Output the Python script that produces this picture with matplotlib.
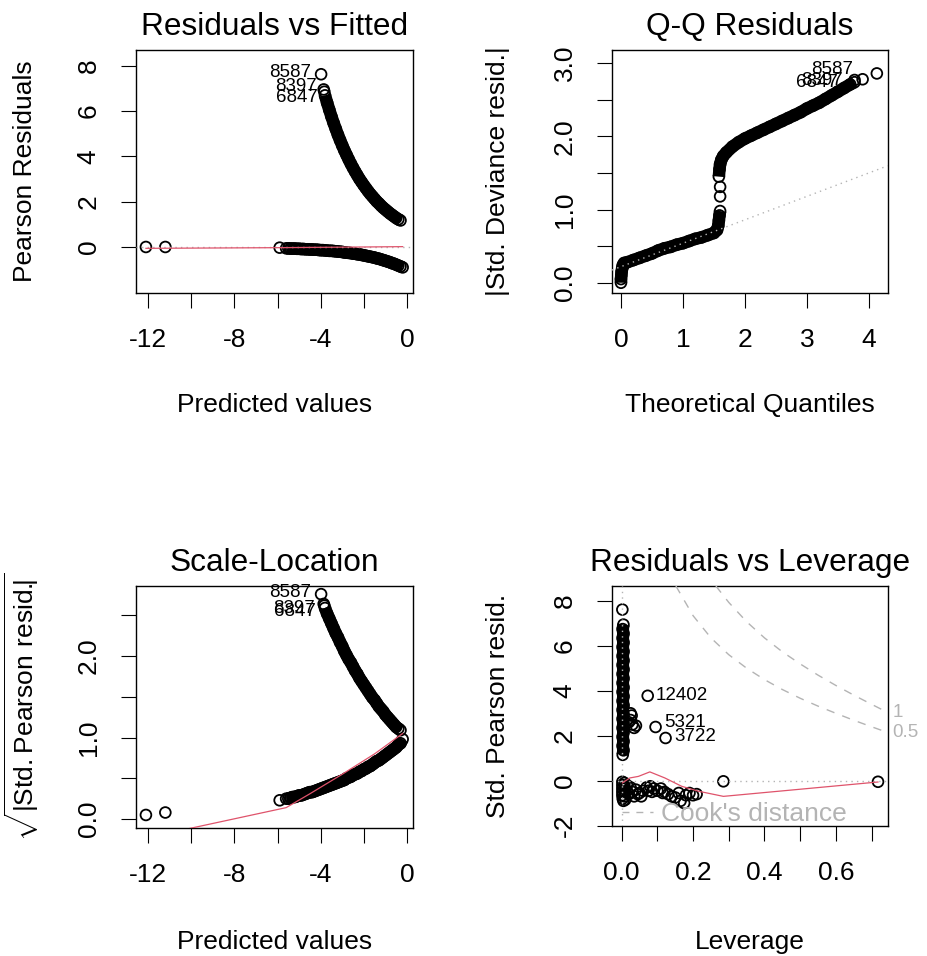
import matplotlib
matplotlib.use('Agg')
import matplotlib.pyplot as plt
from matplotlib.lines import Line2D

plt.rcParams['font.family'] = ['Liberation Sans', 'DejaVu Sans']
plt.rcParams['mathtext.fontset'] = 'custom'
plt.rcParams['mathtext.rm'] = 'Liberation Sans'

RED = '#DF536B'
GRAY = '#B4B4B4'

# --- fitted values (linear predictor) and residuals ---
fitted_hi = [-3.8, -3.7, -3.6, -3.5, -3.4, -3.3, -3.2, -3.1, -3.0, -2.9, -2.8, -2.7,
             -2.6, -2.5, -2.4, -2.3, -2.2, -2.1, -2.0, -1.9, -1.8, -1.7, -1.6, -1.5,
             -1.4, -1.3, -1.2, -1.1, -1.0, -0.9, -0.8, -0.7, -0.6, -0.5, -0.4, -0.3]
resid_hi = [6.69, 6.36, 6.05, 5.75, 5.47, 5.21, 4.95, 4.71, 4.48, 4.26, 4.06, 3.86,
            3.67, 3.49, 3.32, 3.16, 3.00, 2.86, 2.72, 2.59, 2.46, 2.34, 2.23, 2.12,
            2.01, 1.92, 1.82, 1.73, 1.65, 1.57, 1.49, 1.42, 1.35, 1.28, 1.22, 1.17]
sqrt_hi = [2.59, 2.52, 2.46, 2.40, 2.34, 2.28, 2.23, 2.17, 2.12, 2.06, 2.01, 1.96,
           1.92, 1.87, 1.82, 1.78, 1.73, 1.69, 1.65, 1.61, 1.57, 1.53, 1.49, 1.46,
           1.42, 1.38, 1.35, 1.32, 1.28, 1.25, 1.22, 1.19, 1.16, 1.13, 1.11, 1.09]

fitted_lo = [-5.6, -5.5, -5.4, -5.3, -5.2, -5.1, -5.0, -4.9, -4.8, -4.7, -4.6, -4.5,
             -4.4, -4.3, -4.2, -4.1, -4.0, -3.9, -3.8, -3.7, -3.6, -3.5, -3.4, -3.3,
             -3.2, -3.1, -3.0, -2.9, -2.8, -2.7, -2.6, -2.5, -2.4, -2.3, -2.2, -2.1,
             -2.0, -1.9, -1.8, -1.7, -1.6, -1.5, -1.4, -1.3, -1.2, -1.1, -1.0, -0.9,
             -0.8, -0.7, -0.6, -0.5, -0.4, -0.3, -0.2]
resid_lo = [-0.06, -0.06, -0.07, -0.07, -0.07, -0.08, -0.08, -0.09, -0.09, -0.10, -0.10, -0.11,
            -0.11, -0.12, -0.12, -0.13, -0.14, -0.14, -0.15, -0.16, -0.17, -0.17, -0.18, -0.19,
            -0.20, -0.21, -0.22, -0.24, -0.25, -0.26, -0.27, -0.29, -0.30, -0.32, -0.33, -0.35,
            -0.37, -0.39, -0.41, -0.43, -0.45, -0.47, -0.50, -0.52, -0.55, -0.58, -0.61, -0.64,
            -0.67, -0.71, -0.74, -0.78, -0.82, -0.86, -0.90]
sqrt_lo = [0.25, 0.25, 0.26, 0.27, 0.27, 0.28, 0.29, 0.29, 0.30, 0.31, 0.32, 0.33,
           0.33, 0.34, 0.35, 0.36, 0.37, 0.38, 0.39, 0.40, 0.41, 0.42, 0.43, 0.44,
           0.45, 0.46, 0.47, 0.48, 0.50, 0.51, 0.52, 0.54, 0.55, 0.56, 0.58, 0.59,
           0.61, 0.62, 0.64, 0.65, 0.67, 0.69, 0.71, 0.72, 0.74, 0.76, 0.78, 0.80,
           0.82, 0.84, 0.86, 0.88, 0.91, 0.93, 0.98]

fitted_iso = [-12.1, -11.2, -5.9]
resid_iso = [0.0, 0.0, -0.03]
sqrt_iso = [0.05, 0.08, 0.23]

out_ids = ['8587', '8397', '6847']
fitted_out = [-3.98, -3.86, -3.83]
resid_out = [7.62, 6.95, 6.85]
sqrt_out = [2.76, 2.64, 2.62]

smooth1_x = [-12.1, -11.2, -5.9, -4.0, -2.0, -0.2]
smooth1_y = [-0.06, -0.055, -0.03, -0.015, 0.0, 0.015]
smooth3_x = [-12.1, -11.2, -5.6, -4.5, -3.0, -1.5, -0.2]
smooth3_y = [-0.23, -0.18, 0.14, 0.31, 0.55, 0.80, 1.05]

# --- Q-Q (half-normal) ---
qq_lo_x = [0.0, 0.0, 0.005, 0.01, 0.02, 0.03, 0.05, 0.1, 0.2, 0.3, 0.4, 0.5, 0.6, 0.7,
           0.8, 0.9, 1.0, 1.1, 1.2, 1.3, 1.4, 1.5, 1.55, 1.57, 1.58, 1.59, 1.6]
qq_lo_y = [0.0, 0.05, 0.10, 0.15, 0.20, 0.24, 0.27, 0.28, 0.31, 0.34, 0.37, 0.40, 0.44, 0.47,
           0.49, 0.52, 0.54, 0.57, 0.60, 0.62, 0.65, 0.68, 0.72, 0.78, 0.85, 0.92, 0.98]
qq_mid_x = [1.6, 1.6]
qq_mid_y = [1.18, 1.31]
qq_hi_x = [1.58, 1.59, 1.6, 1.62, 1.65, 1.7, 1.8, 1.9, 2.0, 2.1, 2.2, 2.3, 2.4, 2.5, 2.6,
           2.7, 2.8, 2.9, 3.0, 3.1, 3.2, 3.3, 3.4, 3.5, 3.6, 3.7, 3.77]
qq_hi_y = [1.45, 1.55, 1.62, 1.68, 1.73, 1.78, 1.86, 1.92, 1.97, 2.01, 2.05, 2.09, 2.13, 2.17, 2.21,
           2.25, 2.29, 2.33, 2.38, 2.42, 2.46, 2.51, 2.56, 2.61, 2.66, 2.71, 2.74]
qq_out_x = [4.13, 3.9, 3.77]
qq_out_y = [2.86, 2.78, 2.77]
qq_line_intercept = 0.22
qq_line_slope = 0.32

# --- residuals vs leverage ---
lev_hi = [0.003, 0.005, 0.003, 0.005, 0.003, 0.005, 0.003, 0.005, 0.003, 0.005,
          0.003, 0.005, 0.003, 0.005, 0.003, 0.005, 0.003, 0.005, 0.003, 0.005,
          0.003, 0.005, 0.003, 0.005, 0.003, 0.005, 0.003, 0.005, 0.003, 0.005]
std_hi = [1.15, 1.35, 1.55, 1.75, 1.95, 2.15, 2.35, 2.55, 2.75, 2.95,
          3.15, 3.35, 3.55, 3.75, 3.95, 4.15, 4.35, 4.55, 4.75, 4.95,
          5.15, 5.35, 5.55, 5.75, 5.95, 6.15, 6.35, 6.55, 6.75, 6.95]
lev_mid = [0.002, 0.025, 0.025, 0.03, 0.035, 0.02, 0.028, 0.04]
std_mid = [7.62, 3.0, 2.7, 2.5, 2.35, 2.6, 2.9, 2.45]
lev_lo = [0.002, 0.002, 0.002, 0.002, 0.002, 0.003, 0.005, 0.008, 0.008, 0.008, 0.008,
          0.01, 0.015, 0.015, 0.02, 0.025, 0.03, 0.035, 0.04, 0.045, 0.05, 0.055, 0.06,
          0.07, 0.075, 0.08, 0.085, 0.09, 0.1, 0.11, 0.115, 0.12, 0.13, 0.14, 0.15, 0.16,
          0.165, 0.175, 0.18, 0.19, 0.2, 0.21, 0.285, 0.718]
std_lo = [-0.05, -0.2, -0.35, -0.5, -0.65, -0.8, -0.9, -0.1, -0.3, -0.5, -0.7,
          -0.85, -0.2, -0.45, -0.6, -0.3, -0.5, -0.7, -0.4, -0.6, -0.55, -0.7, -0.45,
          -0.3, -0.45, -0.25, -0.5, -0.35, -0.45, -0.35, -0.55, -0.5, -0.6, -0.7, -0.75, -0.55,
          -0.9, -1.0, -0.65, -0.55, -0.65, -0.6, -0.03, -0.05]
lev_ids = ['12402', '5321', '3722']
lev_out = [0.073, 0.095, 0.123]
std_out = [3.78, 2.39, 1.90]
smooth4_x = [0.002, 0.023, 0.047, 0.079, 0.121, 0.168, 0.215, 0.285, 0.718]
smooth4_y = [-0.10, 0.12, 0.19, 0.39, 0.12, -0.25, -0.47, -0.70, -0.06]
cook1_lev = [0.264, 0.3, 0.35, 0.4, 0.45, 0.5, 0.55, 0.6, 0.65, 0.7, 0.746]
cook1_y = [8.67, 7.94, 7.08, 6.36, 5.74, 5.20, 4.70, 4.24, 3.81, 3.40, 3.03]
cook05_lev = [0.152, 0.2, 0.25, 0.3, 0.35, 0.4, 0.45, 0.5, 0.55, 0.6, 0.65, 0.7, 0.746]
cook05_y = [8.67, 7.35, 6.36, 5.61, 5.01, 4.50, 4.06, 3.67, 3.32, 3.00, 2.69, 2.40, 2.14]

W, H = 927, 956
fig = plt.figure(figsize=(W / 100, H / 100), dpi=100)


def box(l, t, r, b):
    return [l / W, 1 - b / H, (r - l) / W, (b - t) / H]


ax1 = fig.add_axes(box(136, 50, 413, 293))
ax2 = fig.add_axes(box(612, 50, 888, 293))
ax3 = fig.add_axes(box(136, 586, 413, 828))
ax4 = fig.add_axes(box(612, 586, 888, 826))


def style(ax, title, xlabel, ylabel, xticks, xlabs, yticks, ylabs, xl_pos, yl_pos):
    ax.set_xticks(xticks, xlabs)
    ax.set_yticks(yticks, ylabs)
    ax.tick_params(length=11, width=0.8, labelsize=19, pad=14.5)
    plt.setp(ax.get_yticklabels(), rotation=90, va='center')
    for s in ax.spines.values():
        s.set_linewidth(1.0)
    ax.set_title(title, fontsize=22.8, pad=10.5)
    ax.set_xlabel(xlabel, fontsize=19)
    ax.set_ylabel(ylabel, fontsize=19)
    ax.xaxis.label.set_va('center')
    ax.yaxis.label.set_va('center')
    ax.xaxis.set_label_coords(0.5, xl_pos)
    ax.yaxis.set_label_coords(yl_pos, 0.5)


def pts(ax, x, y, band=False):
    if band:
        ax.plot(x, y, color='black', lw=9, solid_capstyle='butt', zorder=2)
    ax.scatter(x, y, s=60, facecolors='none', edgecolors='black', linewidths=1.3, zorder=3)


def label(ax, txt, x, y, dx, dy, ha='right'):
    ax.annotate(txt, (x, y), xytext=(dx, dy), textcoords='offset points',
                ha=ha, va='center', fontsize=13.5, zorder=6)


fit_ticks = [-12, -10, -8, -6, -4, -2, 0]
fit_labs = ['-12', '', '-8', '', '-4', '', '0']

# Residuals vs Fitted
pts(ax1, fitted_hi, resid_hi, band=True)
pts(ax1, fitted_lo, resid_lo, band=True)
pts(ax1, fitted_iso, resid_iso)
pts(ax1, fitted_out, resid_out)
ax1.axhline(0, color=GRAY, lw=1, ls=(0, (1, 3)), zorder=4)
ax1.plot(smooth1_x, smooth1_y, color=RED, lw=0.9, zorder=5)
for i, (dx, dy) in enumerate([(-7, 1), (-5, 2), (-5, -4)]):
    label(ax1, out_ids[i], fitted_out[i], resid_out[i], dx, dy)
ax1.set_xlim(-12.56, 0.28)
ax1.set_ylim(-2.03, 8.69)
style(ax1, 'Residuals vs Fitted', 'Predicted values', 'Pearson Residuals',
      fit_ticks, fit_labs, [0, 2, 4, 6, 8], ['0', '2', '4', '6', '8'], -0.461, -0.401)

# Q-Q Residuals
ax2.axline((0, qq_line_intercept), slope=qq_line_slope, color=GRAY, lw=1,
           ls=(0, (1, 3)), zorder=4)
pts(ax2, qq_lo_x, qq_lo_y, band=True)
pts(ax2, qq_mid_x, qq_mid_y)
pts(ax2, qq_hi_x, qq_hi_y, band=True)
pts(ax2, qq_out_x, qq_out_y)
for i, (dx, dy) in enumerate([(-17, 3), (-14, -1), (-12, -2)]):
    label(ax2, out_ids[i], qq_out_x[i], qq_out_y[i], dx, dy)
ax2.set_xlim(-0.145, 4.31)
ax2.set_ylim(-0.14, 3.18)
style(ax2, 'Q-Q Residuals', 'Theoretical Quantiles', '|Std. Deviance resid.|',
      [0, 1, 2, 3, 4], ['0', '1', '2', '3', '4'],
      [0, 0.5, 1, 1.5, 2, 2.5, 3], ['0.0', '', '1.0', '', '2.0', '', '3.0'],
      -0.461, -0.412)

# Scale-Location
pts(ax3, fitted_hi, sqrt_hi, band=True)
pts(ax3, fitted_lo, sqrt_lo, band=True)
pts(ax3, fitted_iso, sqrt_iso)
pts(ax3, fitted_out, sqrt_out)
ax3.plot(smooth3_x, smooth3_y, color=RED, lw=0.9, zorder=5)
for i, (dx, dy) in enumerate([(-7, 1), (-6, -3), (-6, -4)]):
    label(ax3, out_ids[i], fitted_out[i], sqrt_out[i], dx, dy)
ax3.set_xlim(-12.56, 0.28)
ax3.set_ylim(-0.11, 2.86)
style(ax3, 'Scale-Location', 'Predicted values',
      r'$\sqrt{|\mathrm{Std.Pearson\ resid.}\!\!|}$',
      fit_ticks, fit_labs, [0, 0.5, 1, 1.5, 2, 2.5], ['0.0', '', '1.0', '', '2.0', ''],
      -0.471, -0.413)

# Residuals vs Leverage
pts(ax4, lev_hi, std_hi, band=True)
pts(ax4, lev_mid, std_mid)
pts(ax4, lev_lo, std_lo)
pts(ax4, lev_out, std_out)
ax4.axhline(0, color=GRAY, lw=1, ls=(0, (1, 3)), zorder=4)
ax4.axvline(0, color=GRAY, lw=1, ls=(0, (1, 3)), zorder=4)
ax4.plot(smooth4_x, smooth4_y, color=RED, lw=0.9, zorder=5)
ax4.plot(cook1_lev, cook1_y, color=GRAY, lw=1, ls=(0, (6, 6)), zorder=4)
ax4.plot(cook05_lev, cook05_y, color=GRAY, lw=1, ls=(0, (6, 6)), zorder=4)
ax4.text(0.758, cook1_y[-1], '1', color=GRAY, fontsize=13.5, ha='left', va='center',
         clip_on=False)
ax4.text(0.758, cook05_y[-1], '0.5', color=GRAY, fontsize=13.5, ha='left', va='center',
         clip_on=False)
for i, (dx, dy) in enumerate([(6, 0), (6, 3), (6, 1)]):
    label(ax4, lev_ids[i], lev_out[i], std_out[i], dx, dy, ha='left')
ax4.legend([Line2D([], [], color=GRAY, lw=1, ls=(0, (5, 5)))], ["Cook's distance"],
           loc='lower left', bbox_to_anchor=(0.035, 0.0), frameon=False, fontsize=19,
           labelcolor=GRAY, handlelength=1.2, handletextpad=0.3, borderaxespad=0.0,
           borderpad=0.0)
ax4.set_xlim(-0.027, 0.746)
ax4.set_ylim(-2.02, 8.67)
style(ax4, 'Residuals vs Leverage', 'Leverage', 'Std. Pearson resid.',
      [0, 0.1, 0.2, 0.3, 0.4, 0.5, 0.6, 0.7], ['0.0', '', '0.2', '', '0.4', '', '0.6', ''],
      [-2, 0, 2, 4, 6, 8], ['-2', '0', '2', '4', '6', '8'], -0.482, -0.412)

fig.savefig('out.png', dpi=100)
